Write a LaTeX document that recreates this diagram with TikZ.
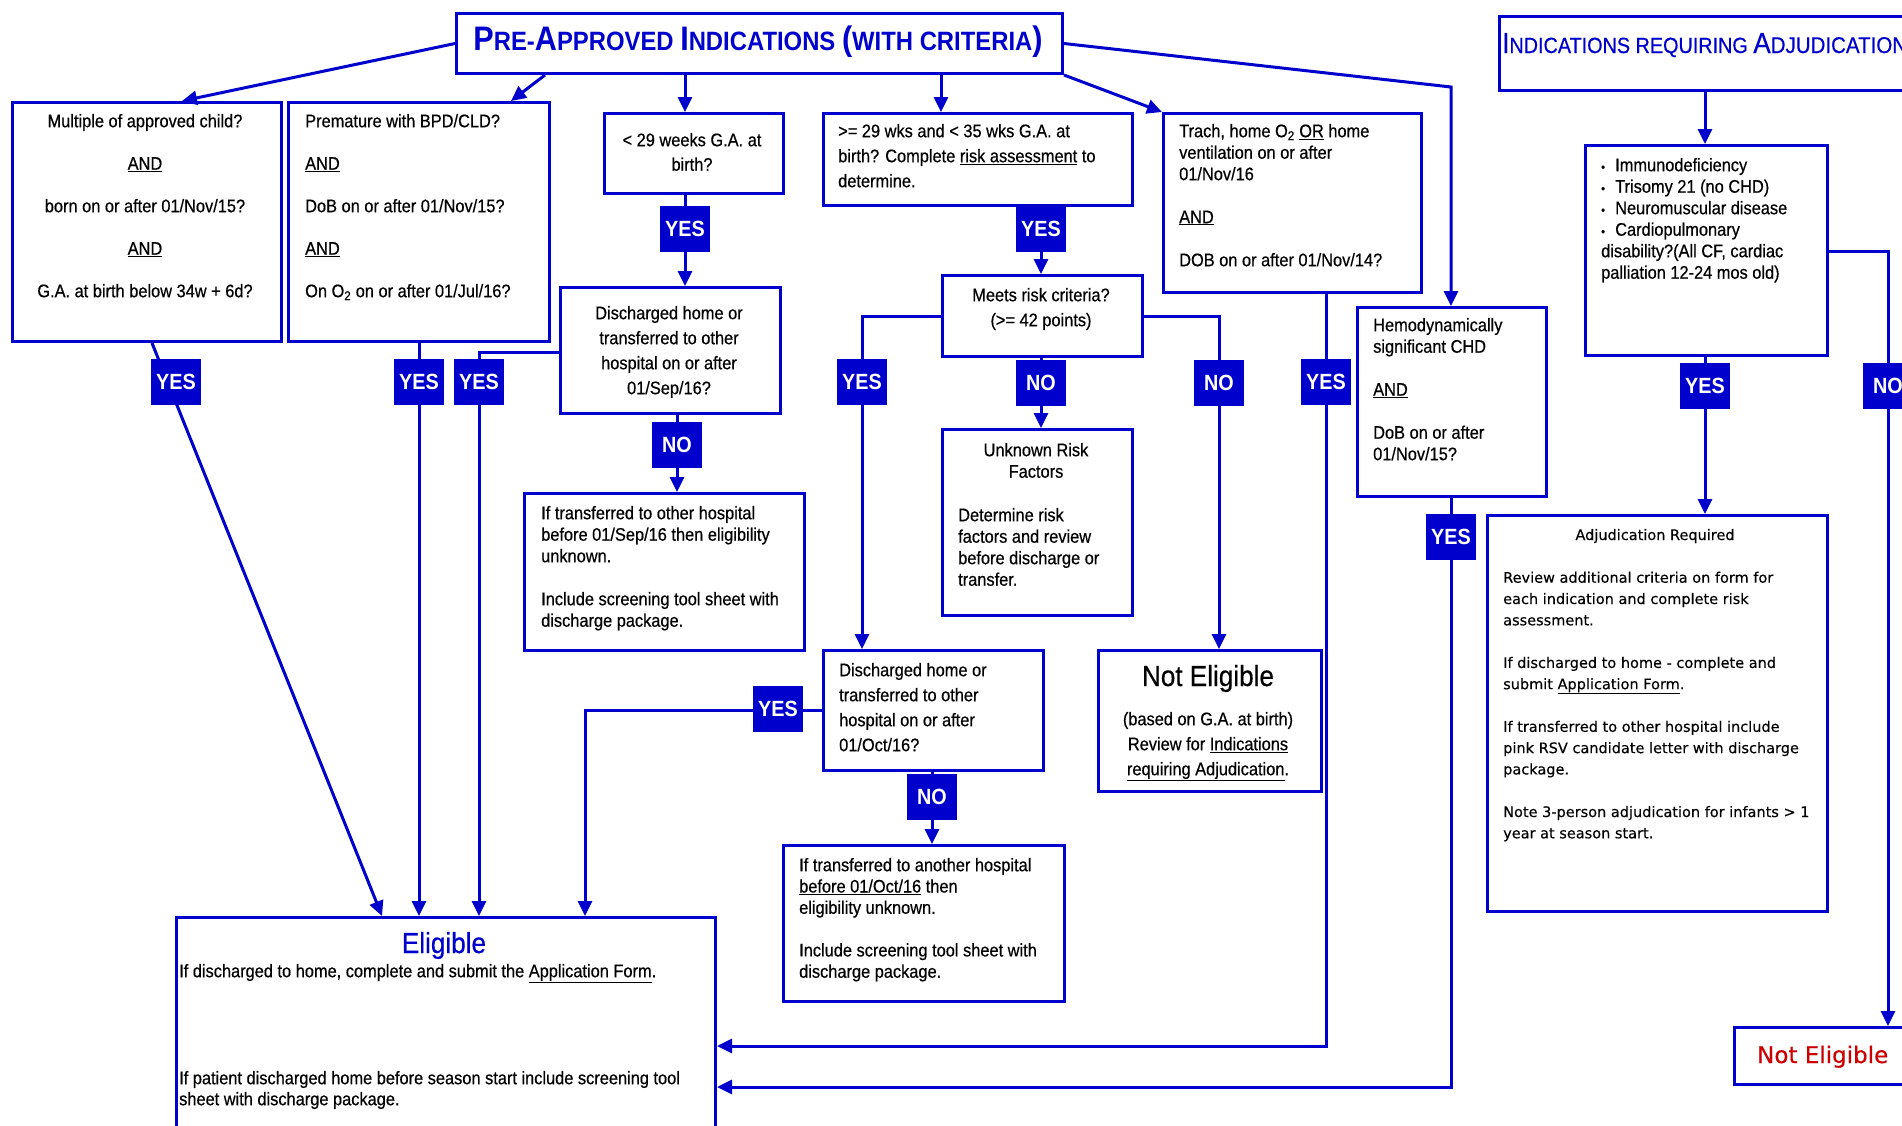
\documentclass[tikz,border=0pt]{standalone}
\usepackage{fontspec}
\setmainfont{Liberation Sans}[FakeStretch=0.9,UprightFeatures={FakeBold=0.5}]
\newfontfamily\verd{DejaVu Sans}[FakeBold=0.3]
\usetikzlibrary{arrows.meta}
\definecolor{fcblue}{RGB}{0,0,204}
\definecolor{fcred}{RGB}{204,0,0}
\pgfdeclarelayer{bg}
\pgfsetlayers{bg,main}
\newcommand{\topst}{\rule{0pt}{15pt}}
\newcommand{\topsv}{\rule{0pt}{11.5pt}}
\newcommand{\bul}{\makebox[14pt][l]{\fontsize{12}{12}\selectfont\textbullet}}
\newcommand{\OO}{O\textsubscript{2}}
\newcommand{\TBg}[1]{{\fontsize{34}{34}\selectfont #1}}
\newcommand{\TSm}[1]{{\fontsize{26.5}{26.5}\selectfont #1}}
\newcommand{\ABg}[1]{{\fontsize{29}{29}\selectfont #1}}
\newcommand{\ASm}[1]{{\fontsize{22}{22}\selectfont #1}}
\newcommand{\ASn}[1]{{\fontsize{22.8}{22.8}\selectfont #1}}
\begin{document}
\begin{tikzpicture}[x=1pt,y=-1pt,
  box/.style={draw=fcblue,line width=3pt,inner sep=0pt,anchor=north west},
  lab/.style={fill=fcblue,text=white,inner sep=0pt,minimum width=50pt,minimum height=46pt,font=\bfseries\fontsize{22}{22}\selectfont},
  conn/.style={draw=fcblue,line width=3pt,-{Triangle[length=15pt,width=14pt]}},
  tx/.style={inner sep=0pt,text=black},
  body/.style={tx,font=\fontsize{18.2}{21.5}\selectfont},
  bodyw/.style={tx,font=\fontsize{18.2}{25}\selectfont},
]
\begin{pgfonlayer}{bg}
\fill[white] (0,0) rectangle (1902,1125);
\end{pgfonlayer}
\useasboundingbox (0,0) rectangle (1902,1125);

% boxes
\node[box,minimum width=606pt,minimum height=60pt] (title) at (455,12) {};
\node[box,minimum width=414pt,minimum height=74pt] (adjt) at (1498,15) {};
\node[box,minimum width=269pt,minimum height=239pt] (b1) at (11,101) {};
\node[box,minimum width=261pt,minimum height=239pt] (b2) at (287,101) {};
\node[box,minimum width=179pt,minimum height=80pt] (b3) at (603,112) {};
\node[box,minimum width=309pt,minimum height=92pt] (b4) at (822,112) {};
\node[box,minimum width=258pt,minimum height=179pt] (b5) at (1162,112) {};
\node[box,minimum width=189pt,minimum height=189pt] (b6) at (1356,306) {};
\node[box,minimum width=242pt,minimum height=210pt] (b7) at (1584,144) {};
\node[box,minimum width=220pt,minimum height=126pt] (b8) at (559,286) {};
\node[box,minimum width=200pt,minimum height=81pt] (b9) at (941,274) {};
\node[box,minimum width=280pt,minimum height=157pt] (b10) at (523,492) {};
\node[box,minimum width=190pt,minimum height=186pt] (b11) at (941,428) {};
\node[box,minimum width=220pt,minimum height=120pt] (b12) at (822,649) {};
\node[box,minimum width=223pt,minimum height=141pt] (b13) at (1097,649) {};
\node[box,minimum width=281pt,minimum height=156pt] (b14) at (782,844) {};
\node[box,minimum width=539pt,minimum height=224pt] (b15) at (175,916) {};
\node[box,minimum width=340pt,minimum height=396pt] (b16) at (1486,514) {};
\node[box,minimum width=179pt,minimum height=57pt] (b17) at (1733,1026) {};

% texts
\node[tx,text=fcblue,font=\bfseries\fontsize{26.5}{26.5}\selectfont,anchor=base] (titlet) at (758,50)
  {\TBg{P}\TSm{RE-}\TBg{A}\TSm{PPROVED} \TBg{I}\TSm{NDICATIONS} \TBg{(}\TSm{WITH CRITERIA}\TBg{)}};
\node[tx,text=fcblue,font=\fontsize{22}{22}\selectfont,anchor=base west] (adjtt) at (1502,53)
  {\ABg{I}\ASm{NDICATIONS REQUIRING} \ABg{A}\ASn{DJUDICATION}};

\node[body,align=center,anchor=north] (b1t) at (145,112)
  {\topst Multiple of approved child?\\[21pt]\underline{AND}\\[21pt]born on or after 01/Nov/15?\\[21pt]\underline{AND}\\[21pt]G.A. at birth below 34w + 6d?};
\node[body,align=left,anchor=north west] (b2t) at (305,112)
  {\topst Premature with BPD/CLD?\\[21pt]\underline{AND}\\[21pt]DoB on or after 01/Nov/15?\\[21pt]\underline{AND}\\[21pt]On \OO{} on or after 01/Jul/16?};
\node[tx,font=\fontsize{18.2}{24.5}\selectfont,align=center,anchor=north] (b3t) at (692,131)
  {\topst < 29 weeks G.A. at\\birth?};
\node[bodyw,align=left,anchor=north west] (b4t) at (838,122)
  {\topst >= 29 wks and < 35 wks G.A. at\\birth? Complete \underline{risk assessment} to\\determine.};
\node[body,align=left,anchor=north west] (b5t) at (1179,122)
  {\topst Trach, home \OO{} \underline{OR} home\\ventilation on or after\\01/Nov/16\\[21.5pt]\underline{AND}\\[21.5pt]DOB on or after 01/Nov/14?};
\node[body,align=left,anchor=north west] (b6t) at (1373,316)
  {\topst Hemodynamically\\significant CHD\\[21.5pt]\underline{AND}\\[21.5pt]DoB on or after\\01/Nov/15?};
\node[body,align=left,anchor=north west] (b7t) at (1601,156)
  {\topst\bul Immunodeficiency\\\bul Trisomy 21 (no CHD)\\\bul Neuromuscular disease\\\bul Cardiopulmonary\\disability?(All CF, cardiac\\palliation 12-24 mos old)};
\node[bodyw,align=center,anchor=north] (b8t) at (669,304)
  {\topst Discharged home or\\transferred to other\\hospital on or after\\01/Sep/16?};
\node[bodyw,align=center,anchor=north] (b9t) at (1041,286)
  {\topst Meets risk criteria?\\(>= 42 points)};
\node[body,align=left,anchor=north west] (b10t) at (541,504)
  {\topst If transferred to other hospital\\before 01/Sep/16 then eligibility\\unknown.\\[21.5pt]Include screening tool sheet with\\discharge package.};
\node[body,align=center,anchor=north] (b11h) at (1036,441)
  {\topst Unknown Risk\\Factors};
\node[body,align=left,anchor=north west] (b11t) at (958,506)
  {\topst Determine risk\\factors and review\\before discharge or\\transfer.};
\node[bodyw,align=left,anchor=north west] (b12t) at (839,661)
  {\topst Discharged home or\\transferred to other\\hospital on or after\\01/Oct/16?};
\node[tx,font=\fontsize{29}{29}\selectfont,anchor=base] (b13h) at (1208,686) {Not Eligible};
\node[bodyw,align=center,anchor=north] (b13t) at (1208,710)
  {\topst (based on G.A. at birth)\\Review for \underline{Indications}\\\underline{requiring Adjudication}.};
\node[tx,font=\fontsize{18.2}{21.3}\selectfont,align=left,anchor=north west] (b14t) at (799,856)
  {\topst If transferred to another hospital\\\underline{before 01/Oct/16} then\\eligibility unknown.\\[21.3pt]Include screening tool sheet with\\discharge package.};
\node[tx,text=fcblue,font=\fontsize{29}{29}\selectfont,anchor=base] (b15h) at (444,953) {Eligible};
\node[body,align=left,anchor=north west] (b15t1) at (179,962)
  {\topst If discharged to home, complete and submit the \underline{Application Form}.};
\node[tx,font=\fontsize{18.2}{21}\selectfont,align=left,anchor=north west] (b15t2) at (179,1069)
  {\topst If patient discharged home before season start include screening tool\\sheet with discharge package.};
\node[tx,font=\verd\fontsize{14.5}{14.5}\selectfont,anchor=base] (b16h) at (1655,540) {Adjudication Required};
\node[tx,font=\verd\fontsize{14.5}{21.3}\selectfont,align=left,anchor=north west] (b16t) at (1503,571)
  {\topsv Review additional criteria on form for\\each indication and complete risk\\assessment.\\[21.3pt]If discharged to home - complete and\\submit \underline{Application Form}.\\[21.3pt]If transferred to other hospital include\\pink RSV candidate letter with discharge\\package.\\[21.3pt]Note 3-person adjudication for infants > 1\\year at season start.};
\node[tx,text=fcred,font=\verd\fontsize{23}{23}\selectfont,anchor=base west] (b17t) at (1757,1063) {Not Eligible};

% labels
\node[lab] (y1) at (176,382) {YES};
\node[lab] (y2) at (419,382) {YES};
\node[lab] (y3) at (479,382) {YES};
\node[lab] (y4) at (685,229) {YES};
\node[lab] (n1) at (677,445) {NO};
\node[lab] (y5) at (1041,229) {YES};
\node[lab] (y6) at (862,382) {YES};
\node[lab] (n2) at (1041,383) {NO};
\node[lab] (n3) at (1219,383) {NO};
\node[lab] (y7) at (1326,382) {YES};
\node[lab] (y8) at (778,709) {YES};
\node[lab] (n4) at (932,797) {NO};
\node[lab] (y9) at (1451,537) {YES};
\node[lab] (y10) at (1705,386) {YES};
\node[lab] (n5) at (1888,386) {NO};

\coordinate (k4) at (941,72);
\coordinate (k6) at (1451,87);

\begin{pgfonlayer}{bg}
\draw[conn] (title.west) -- ([xshift=171pt]b1.north west);
\draw[conn] ([xshift=90pt]title.south west) -- ([xshift=224pt]b2.north west);
\draw[conn] (y4 |- title.south) -- (y4 |- b3.north);
\draw[conn] (y4 |- b3.south) -- (y4 |- b8.north);
\draw[conn] (n1 |- b8.south) -- (n1 |- b10.north);
\draw[conn] (k4) -- (k4 |- b4.north);
\draw[conn] (y5 |- b4.south) -- (y5 |- b9.north);
\draw[conn] (title.south east) -- (b5.north west);
\draw[conn] (title.east) -- (k6) -- (k6 |- b6.north);
\draw[conn] (y10 |- adjt.south) -- (y10 |- b7.north);
\draw[conn] ([xshift=141pt]b1.south west) -- ([xshift=207pt]b15.north west);
\draw[conn] (y2 |- b2.south) -- (y2 |- b15.north);
\draw[conn] ([yshift=-66pt]b8.north west) -| (y3 |- b15.north);
\draw[conn] (b9.west) -| (y6 |- b12.north);
\draw[conn] (n2 |- b9.south) -- (n2 |- b11.north);
\draw[conn] (b9.east) -| (n3 |- b13.north);
\draw[conn] (y7 |- b5.south) |- ([yshift=-130pt]b15.north east);
\draw[conn] (y9 |- b6.south) |- ([yshift=-171pt]b15.north east);
\draw[conn] (b12.west) -| ([xshift=410pt]b15.north west);
\draw[conn] (n4 |- b12.south) -- (n4 |- b14.north);
\draw[conn] (y10 |- b7.south) -- (y10 |- b16.north);
\draw[conn] ([yshift=-107pt]b7.north east) -| (n5 |- b17.north);
\end{pgfonlayer}
\end{tikzpicture}
\end{document}
